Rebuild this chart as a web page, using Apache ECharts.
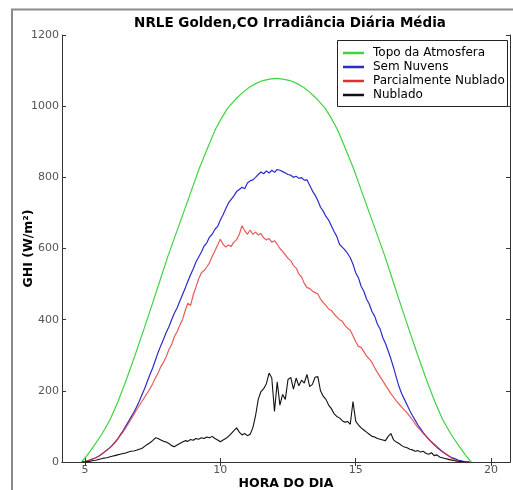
<!DOCTYPE html>
<html>
<head>
<meta charset="utf-8">
<script src="https://cdn.jsdelivr.net/npm/echarts@6/dist/echarts.min.js"></script>
<style>
html,body{margin:0;padding:0;background:#fff;}
#chart{width:513px;height:490px;}
</style>
</head>
<body>
<div id="chart"></div>
<script>
var titleText = 'NRLE Golden,CO Irradiância Diária Média';
var xName = 'HORA DO DIA';
var yName = 'GHI (W/m²)';
var seriesNames = ['Topo da Atmosfera', 'Sem Nuvens', 'Parcialmente Nublado', 'Nublado'];
var xTicks = [5, 10, 15, 20];

var toaHours = [4.87, 5.07, 5.31, 5.62, 5.92, 6.22, 6.54, 6.87, 7.17, 7.47, 7.77, 8.07, 8.47, 8.87, 9.22, 9.57, 9.82, 10.07, 10.28, 10.57, 10.82, 11.07, 11.32, 11.57, 11.82, 12.07,
  12.32, 12.57, 12.82, 13.07, 13.32, 13.57, 13.86, 14.07, 14.32, 14.57, 14.92, 15.27, 15.67, 16.07, 16.37, 16.67, 16.97, 17.27, 17.6, 17.92, 18.22, 18.52, 18.83, 19.07, 19.27];
var toaValues = [0, 18, 43, 78, 118, 170, 234, 305, 372, 440, 510, 580, 665, 750, 825, 890, 935, 970, 995, 1020, 1038, 1053, 1064, 1072, 1076, 1078,
  1076, 1072, 1064, 1053, 1038, 1020, 995, 970, 935, 890, 825, 750, 665, 580, 510, 440, 372, 305, 234, 170, 118, 78, 43, 18, 0];

var hours = [4.9,
  5.0, 5.1, 5.2, 5.3, 5.4, 5.5, 5.6, 5.7, 5.8, 5.9,
  6.0, 6.1, 6.2, 6.3, 6.4, 6.5, 6.6, 6.7, 6.8, 6.9,
  7.0, 7.1, 7.2, 7.3, 7.4, 7.5, 7.6, 7.7, 7.8, 7.9,
  8.0, 8.1, 8.2, 8.3, 8.4, 8.5, 8.6, 8.7, 8.8, 8.9,
  9.0, 9.1, 9.2, 9.3, 9.4, 9.5, 9.6, 9.7, 9.8, 9.9,
  10.0, 10.1, 10.2, 10.3, 10.4, 10.5, 10.6, 10.7, 10.8, 10.9,
  11.0, 11.1, 11.2, 11.3, 11.4, 11.5, 11.6, 11.7, 11.8, 11.9,
  12.0, 12.1, 12.2, 12.3, 12.4, 12.5, 12.6, 12.7, 12.8, 12.9,
  13.0, 13.1, 13.2, 13.3, 13.4, 13.5, 13.6, 13.7, 13.8, 13.9,
  14.0, 14.1, 14.2, 14.3, 14.4, 14.5, 14.6, 14.7, 14.8, 14.9,
  15.0, 15.1, 15.2, 15.3, 15.4, 15.5, 15.6, 15.7, 15.8, 15.9,
  16.0, 16.1, 16.2, 16.3, 16.4, 16.5, 16.6, 16.7, 16.8, 16.9,
  17.0, 17.1, 17.2, 17.3, 17.4, 17.5, 17.6, 17.7, 17.8, 17.9,
  18.0, 18.1, 18.2, 18.3, 18.4, 18.5, 18.6, 18.7, 18.8, 18.9,
  19.0, 19.1, 19.2];

var clearValues = [0,
  1, 3, 6, 9, 12, 16, 21, 27, 33, 39,
  46, 55, 64, 76, 87, 100, 113, 126, 139, 154,
  170, 188, 206, 226, 246, 264, 286, 308, 327, 345,
  364, 380, 400, 418, 433, 452, 470, 488, 508, 526,
  543, 562, 576, 590, 607, 616, 632, 640, 654, 662,
  680, 695, 712, 728, 738, 748, 760, 766, 772, 768,
  784, 790, 793, 800, 808, 815, 810, 818, 812, 820,
  814, 822, 820, 816, 812, 808, 806, 800, 803, 797,
  799, 792, 793, 778, 762, 750, 735, 716, 705, 690,
  680, 664, 648, 634, 612, 604, 596, 586, 574, 556,
  532, 518, 494, 480, 458, 444, 423, 410, 388, 374,
  350, 333, 312, 290, 265, 238, 212, 192, 176, 160,
  144, 130, 117, 104, 93, 82, 73, 64, 56, 48,
  41, 35, 29, 24, 19, 14, 11, 8, 5, 3,
  1, 0, 0];

var partlyValues = [0,
  1, 3, 6, 9, 12, 16, 21, 27, 33, 39,
  46, 54, 63, 74, 84, 96, 108, 120, 133, 146,
  158, 170, 182, 194, 206, 220, 236, 250, 268, 280,
  296, 316, 330, 352, 366, 384, 400, 425, 446, 440,
  470, 492, 515, 532, 538, 548, 560, 578, 594, 610,
  626, 612, 604, 610, 606, 618, 625, 640, 664, 650,
  640, 652, 640, 646, 638, 642, 630, 624, 628, 618,
  622, 612, 600, 592, 582, 572, 566, 552, 545, 528,
  520, 502, 490, 488, 480, 476, 472, 458, 448, 440,
  430, 426, 416, 408, 400, 396, 384, 376, 370, 355,
  338, 325, 322, 310, 298, 290, 280, 265, 252, 240,
  228, 216, 204, 192, 182, 172, 163, 154, 146, 138,
  128, 118, 107, 97, 89, 80, 72, 64, 57, 51,
  44, 37, 30, 24, 19, 13, 8, 4, 2, 0,
  0, 0, 0];

var cloudyValues = [0,
  0, 1, 2, 4, 5, 7, 9, 11, 12, 14,
  16, 18, 20, 22, 24, 25, 28, 30, 31, 33,
  36, 38, 44, 49, 54, 60, 68, 66, 62, 58,
  56, 52, 46, 43, 48, 52, 56, 60, 58, 63,
  61, 66, 64, 68, 66, 70, 68, 72, 66, 62,
  57, 62, 66, 72, 80, 88, 96, 84, 76, 80,
  74, 78, 96, 130, 176, 198, 206, 220, 250, 236,
  142, 225, 160, 190, 176, 232, 238, 205, 236, 214,
  230, 222, 246, 212, 218, 238, 240, 200, 185, 176,
  160, 150, 136, 128, 124, 116, 112, 114, 106, 170,
  115, 104, 96, 90, 84, 78, 72, 70, 66, 64,
  62, 60, 72, 80, 62, 56, 52, 46, 42, 40,
  36, 34, 30, 32, 28, 30, 24, 22, 26, 18,
  20, 14, 12, 10, 8, 6, 4, 3, 2, 1,
  0, 0, 0];

function pairs(xs, ys) {
  var out = [];
  for (var i = 0; i < xs.length; i++) out.push([xs[i], ys[i]]);
  return out;
}

var FONT = 'DejaVu Sans';
var chart = echarts.init(document.getElementById('chart'), null, {renderer: 'canvas'});

var lineStyleAxis = {color: '#333', width: 1};
function plain(v) { return String(v); }

chart.setOption({
  animation: false,
  backgroundColor: '#fff',
  title: {
    text: titleText,
    left: 285,
    top: 11,
    textAlign: 'center',
    textStyle: {fontFamily: FONT, fontSize: 13.5, fontWeight: 'bold', color: '#000'}
  },
  grid: {left: 62, right: 3, top: 35, bottom: 28, containLabel: false, outerBoundsMode: 'none'},
  legend: {
    data: seriesNames,
    orient: 'vertical',
    left: 343,
    top: 46,
    padding: 0,
    itemGap: 0,
    itemWidth: 21,
    itemHeight: 2.5,
    icon: 'rect',
    z: 20,
    textStyle: {fontFamily: FONT, fontSize: 12, color: '#000', lineHeight: 14, padding: [0, 0, 0, 4]}
  },
  graphic: [
    {type: 'rect', z: 15, shape: {x: 12, y: 9.5, width: 700, height: 700},
      style: {fill: 'none', stroke: '#8a8a8a', lineWidth: 2}},
    {type: 'rect', z: 15, shape: {x: 337.5, y: 40.5, width: 170, height: 66},
      style: {fill: '#fff', stroke: '#222', lineWidth: 1}}
  ],
  xAxis: [
    {
      type: 'value', min: 4.15, max: 20.7, position: 'bottom',
      name: xName, nameLocation: 'middle', nameGap: 15, nameMoveOverlap: false,
      nameTextStyle: {fontFamily: FONT, fontSize: 12.5, fontWeight: 'bold', color: '#000'},
      axisLine: {show: true, lineStyle: lineStyleAxis},
      axisTick: {show: true, inside: true, length: 4, customValues: xTicks, lineStyle: lineStyleAxis},
      axisLabel: {customValues: xTicks, margin: 3, color: '#555', fontSize: 11, fontFamily: FONT, formatter: plain},
      splitLine: {show: false}
    },
    {
      type: 'value', min: 4.15, max: 20.7, position: 'top',
      axisLine: {show: true, lineStyle: lineStyleAxis},
      axisTick: {show: true, inside: true, length: 4, customValues: xTicks, lineStyle: lineStyleAxis},
      axisLabel: {show: false},
      splitLine: {show: false}
    }
  ],
  yAxis: [
    {
      type: 'value', min: 0, max: 1200, interval: 200, position: 'left',
      name: yName, nameLocation: 'middle', nameGap: 27, nameRotate: 90, nameMoveOverlap: false,
      nameTextStyle: {fontFamily: FONT, fontSize: 12.5, fontWeight: 'bold', color: '#000'},
      axisLine: {show: true, lineStyle: lineStyleAxis},
      axisTick: {show: true, inside: true, length: 4, lineStyle: lineStyleAxis},
      axisLabel: {margin: 3, color: '#555', fontSize: 11, fontFamily: FONT, formatter: plain},
      splitLine: {show: false}
    },
    {
      type: 'value', min: 0, max: 1200, interval: 200, position: 'right',
      axisLine: {show: true, lineStyle: lineStyleAxis},
      axisTick: {show: true, inside: true, length: 4, lineStyle: lineStyleAxis},
      axisLabel: {show: false},
      splitLine: {show: false}
    }
  ],
  series: [
    {name: seriesNames[0], type: 'line', symbol: 'none', data: pairs(toaHours, toaValues),
      color: '#3fd43f', lineStyle: {width: 1.2, color: '#3fd43f'}},
    {name: seriesNames[1], type: 'line', symbol: 'none', data: pairs(hours, clearValues),
      color: '#2b2bcc', lineStyle: {width: 1.2, color: '#2b2bcc'}},
    {name: seriesNames[2], type: 'line', symbol: 'none', data: pairs(hours, partlyValues),
      color: '#e23030', lineStyle: {width: 1.2, color: '#e23030', opacity: 0.8}},
    {name: seriesNames[3], type: 'line', symbol: 'none', data: pairs(hours, cloudyValues),
      color: '#111', lineStyle: {width: 1.1, color: '#111'}}
  ]
});
</script>
</body>
</html>
